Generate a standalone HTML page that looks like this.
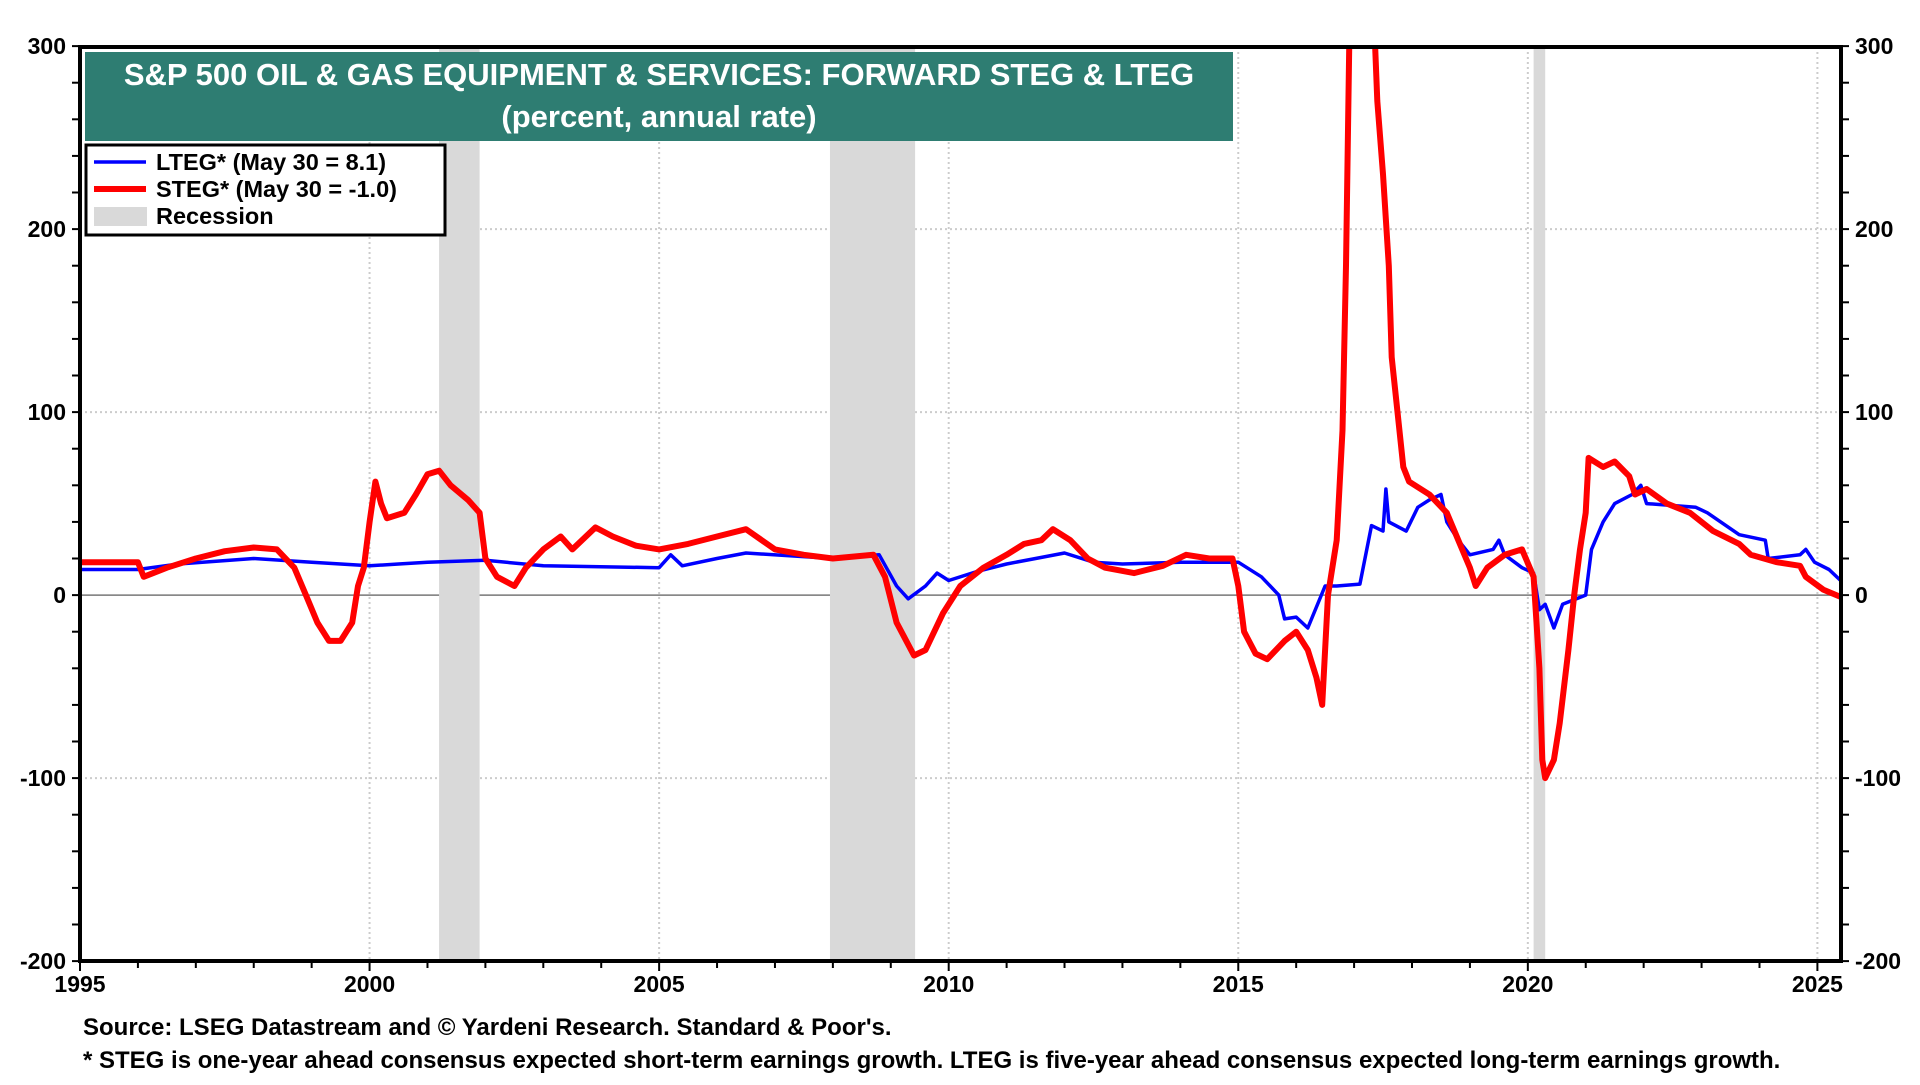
<!DOCTYPE html>
<html><head><meta charset="utf-8"><style>
html,body{margin:0;padding:0;background:#fff;}
svg text{font-family:"Liberation Sans",Arial,sans-serif;font-weight:bold;}
</style></head><body>
<svg id="chart" width="1920" height="1080" viewBox="0 0 1920 1080" xmlns="http://www.w3.org/2000/svg">
<g id="grid"></g>
<g id="rec"></g>
<defs><clipPath id="clip"><rect x="80" y="47" width="1761" height="914"/></clipPath></defs>
<g id="series" clip-path="url(#clip)"></g>
<rect x="80" y="47" width="1761" height="914" fill="none" stroke="#000" stroke-width="4"/>
<g id="axes"></g>
<g>
<rect x="85" y="52" width="1148" height="89" fill="#2e7d72"/>
<text x="659" y="85" font-size="31" fill="#fff" text-anchor="middle">S&amp;P 500 OIL &amp; GAS EQUIPMENT &amp; SERVICES: FORWARD STEG &amp; LTEG</text>
<text x="659" y="127" font-size="31" fill="#fff" text-anchor="middle">(percent, annual rate)</text>
</g>
<g>
<rect x="86" y="145" width="359" height="90" fill="#fff" stroke="#000" stroke-width="3"/>
<line x1="94" y1="162" x2="146" y2="162" stroke="#0000ff" stroke-width="3.5"/>
<text x="156" y="170" font-size="23.5">LTEG* (May 30 = 8.1)</text>
<line x1="94" y1="189" x2="146" y2="189" stroke="#ff0000" stroke-width="6"/>
<text x="156" y="197" font-size="23.5">STEG* (May 30 = -1.0)</text>
<rect x="94" y="207" width="53" height="19" fill="#d9d9d9"/>
<text x="156" y="224" font-size="23.5">Recession</text>
</g>
<text x="83" y="1035" font-size="24">Source: LSEG Datastream and © Yardeni Research. Standard &amp; Poor's.</text>
<text x="83" y="1068" font-size="24">* STEG is one-year ahead consensus expected short-term earnings growth. LTEG is five-year ahead consensus expected long-term earnings growth.</text>
</svg>
<script>
const yTicks=[300,200,100,0,-100,-200];
const xTicks=[1995,2000,2005,2010,2015,2020,2025];
const recessions=[[2001.2,2001.9],[2007.95,2009.42],[2020.1,2020.3]];
const ltegYears=[1995,1996,1996.7,1998,1999,2000,2000.5,2001,2002,2003,2005,2005.2,2005.4,2006,2006.5,2008,2008.8,2009.1,2009.3,2009.6,2009.8,2010,2010.5,2011,2011.5,2012,2012.5,2013,2014,2014.8,2015,2015.4,2015.7,2015.8,2016.0,2016.2,2016.5,2016.7,2017.1,2017.3,2017.5,2017.55,2017.6,2017.9,2018.1,2018.3,2018.5,2018.6,2018.8,2019,2019.4,2019.5,2019.6,2019.9,2020.1,2020.2,2020.3,2020.45,2020.6,2021,2021.1,2021.3,2021.5,2021.8,2021.95,2022.05,2022.9,2023.1,2023.65,2024.1,2024.15,2024.7,2024.8,2024.95,2025.2,2025.4];
const ltegValues=[14,14,17,20,18,16,17,18,19,16,15,22,16,20,23,20,22,5,-2,5,12,8,13,17,20,23,18,17,18,18,18,10,0,-13,-12,-18,5,5,6,38,35,58,40,35,48,52,55,40,30,22,25,30,22,15,12,-8,-5,-18,-5,0,25,40,50,55,60,50,48,45,33,30,20,22,25,18,14,8];
const stegYears=[1995,1996,1996.1,1996.5,1997,1997.5,1998,1998.4,1998.7,1998.9,1999.1,1999.3,1999.5,1999.7,1999.8,1999.9,2000,2000.1,2000.2,2000.3,2000.6,2000.8,2001,2001.2,2001.4,2001.7,2001.9,2002,2002.2,2002.5,2002.7,2003,2003.3,2003.5,2003.9,2004.2,2004.6,2005,2005.5,2006,2006.5,2007,2007.5,2008,2008.7,2008.9,2009.1,2009.4,2009.6,2009.9,2010.2,2010.6,2011,2011.3,2011.6,2011.8,2012.1,2012.4,2012.7,2013.2,2013.7,2014.1,2014.5,2014.9,2015.0,2015.1,2015.3,2015.5,2015.8,2016,2016.2,2016.35,2016.45,2016.55,2016.7,2016.8,2016.86,2016.92,2017.35,2017.4,2017.5,2017.6,2017.65,2017.75,2017.85,2017.95,2018.3,2018.6,2018.8,2019.0,2019.1,2019.3,2019.6,2019.9,2020.1,2020.2,2020.25,2020.3,2020.45,2020.55,2020.7,2020.8,2020.9,2021.0,2021.05,2021.3,2021.5,2021.75,2021.85,2022.05,2022.4,2022.8,2023.2,2023.65,2023.85,2024.3,2024.7,2024.8,2025.1,2025.4];
const stegValues=[18,18,10,15,20,24,26,25,15,0,-15,-25,-25,-15,5,15,40,62,50,42,45,55,66,68,60,52,45,20,10,5,15,25,32,25,37,32,27,25,28,32,36,25,22,20,22,10,-15,-33,-30,-10,5,15,22,28,30,36,30,20,15,12,16,22,20,20,5,-20,-32,-35,-25,-20,-30,-45,-60,0,30,90,180,310,310,270,230,180,130,100,70,62,55,45,30,15,5,15,22,25,10,-40,-90,-100,-90,-70,-30,0,25,45,75,70,73,65,55,58,50,45,35,28,22,18,16,10,3,-1];
const L=80,R=1841,T=47,B=961;
const x=v=>L+(v-1995)*(1817-79.6)/30;
const y=v=>486*1.2245+(-v)*183/100;
const NS='http://www.w3.org/2000/svg';
function mk(tag,parent){const e=document.createElementNS(NS,tag);parent.appendChild(e);return e;}
const grid=document.getElementById('grid'),rec=document.getElementById('rec'),axes=document.getElementById('axes'),series=document.getElementById('series');
recessions.forEach(r=>{const e=mk('rect',rec);


e.setAttribute('x',x(r[0]));e.setAttribute('y',T);e.setAttribute('width',x(r[1])-x(r[0]));e.setAttribute('height',B-T);e.setAttribute('fill','#d9d9d9');});
yTicks.forEach(v=>{
 if(v!==300&&v!==-200){const g=mk('line',grid);
 
 
 g.setAttribute('x1',L);g.setAttribute('x2',R);g.setAttribute('y1',y(v));g.setAttribute('y2',y(v));
 if(v===0){g.setAttribute('stroke','#777');g.setAttribute('stroke-width','1.5');}else{g.setAttribute('stroke','#ccc');g.setAttribute('stroke-width','2');g.setAttribute('stroke-dasharray','2 3');}}
 [[L-14,'end'],[R+14,'start']].forEach(p=>{const t=mk('text',axes);
 
 
 t.setAttribute('x',p[0]);t.setAttribute('y',y(v)+8);t.setAttribute('text-anchor',p[1]);t.setAttribute('font-size','23');t.textContent=v;});
});
for(let v=-200;v<=300;v+=20){[[L-8,L],[R,R+8]].forEach(p=>{const t=mk('line',axes);
 
 
 t.setAttribute('x1',p[0]);t.setAttribute('x2',p[1]);t.setAttribute('y1',y(v));t.setAttribute('y2',y(v));t.setAttribute('stroke','#000');t.setAttribute('stroke-width','2');});}
xTicks.forEach(v=>{
 if(v!==1995){const g=mk('line',grid);
 
 
 g.setAttribute('x1',x(v));g.setAttribute('x2',x(v));g.setAttribute('y1',T);g.setAttribute('y2',B);g.setAttribute('stroke','#ccc');g.setAttribute('stroke-width','2');g.setAttribute('stroke-dasharray','2 3');}
 const t=mk('text',axes);
 
 
 t.setAttribute('x',x(v));t.setAttribute('y',992);t.setAttribute('text-anchor','middle');t.setAttribute('font-size','23');t.textContent=v;});
for(let v=1995;v<=2025;v++){const t=mk('line',axes);
 
 
 t.setAttribute('x1',x(v));t.setAttribute('x2',x(v));t.setAttribute('y1',B);t.setAttribute('y2',B+(v%5===0?10:7));t.setAttribute('stroke','#000');t.setAttribute('stroke-width','2');}
function line(xs,vs,color,w,name){const p=mk('polyline',series);
 
 
 p.setAttribute('points',xs.map((a,i)=>x(a).toFixed(1)+','+y(vs[i]).toFixed(1)).join(' '));
 p.setAttribute('fill','none');p.setAttribute('stroke',color);p.setAttribute('stroke-width',w);p.setAttribute('stroke-linejoin','round');}
line(ltegYears,ltegValues,'#0000ff',3.5,'lteg-line');
line(stegYears,stegValues,'#ff0000',6,'steg-line');
</script>
</body></html>
